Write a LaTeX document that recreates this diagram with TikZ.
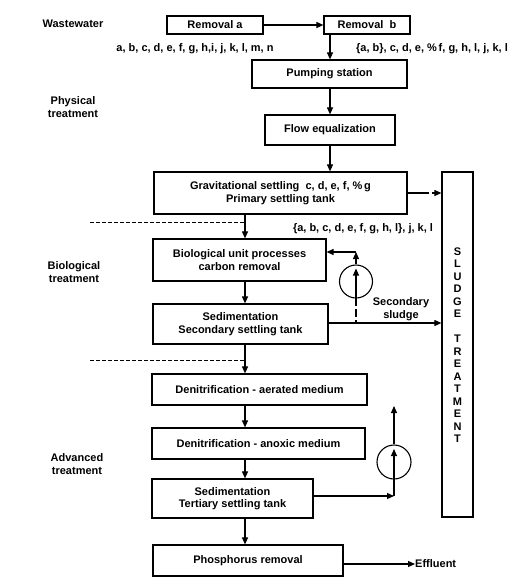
\documentclass[tikz,border=0pt]{standalone}
\usepackage{fontspec}
\setmainfont{Liberation Sans}
\usetikzlibrary{arrows.meta}
\begin{document}
\begin{tikzpicture}[x=1pt,y=-1pt,
  every node/.style={font=\bfseries\fontsize{11}{12.5}\selectfont, inner sep=0pt},
  box/.style={draw, line width=1.2pt, align=center},
  lbl/.style={align=center},
  arr/.style={line width=1.1pt, -{Triangle[length=7pt,width=6pt]}},
  ln/.style={line width=1.1pt},
  dotline/.style={line width=1pt, dash pattern=on 3.5pt off 2.5pt},
  pump/.style={draw, circle, line width=1.1pt, minimum size=33pt}]
\useasboundingbox (0,0) rectangle (526,587);
% boxes
\node[box, minimum width=96pt, minimum height=18pt] (ra) at (215,25) {Removal a};
\node[box, minimum width=86pt, minimum height=18pt] (rb) at (367,25) {Removal\ \ b};
\node[box, minimum width=155pt, minimum height=28pt] (ps) at (329.5,74) {Pumping station};
\node[box, minimum width=130pt, minimum height=30pt] (fe) at (330,130) {Flow equalization};
\node[box, minimum width=253pt, minimum height=42pt] (gs) at (280.5,193) {Gravitational settling\ \ c, d, e, f, \%\,g\\Primary settling tank};
\node[box, minimum width=173pt, minimum height=42pt] (bu) at (239.5,260) {Biological unit processes\\carbon removal};
\node[box, minimum width=175pt, minimum height=40pt] (sd) at (240.5,324) {Sedimentation\\Secondary settling tank};
\node[box, minimum width=215pt, minimum height=31pt] (da) at (259.5,389.5) {Denitrification - aerated medium};
\node[box, minimum width=213pt, minimum height=31pt] (dn) at (258.5,443.5) {Denitrification - anoxic medium};
\node[box, minimum width=161pt, minimum height=39pt] (ts) at (232.5,498.5) {Sedimentation\\Tertiary settling tank};
\node[box, minimum width=190pt, minimum height=31pt] (pr) at (248,560.5) {Phosphorus removal};
\node[box, minimum width=31pt, minimum height=345pt] (st) at (457.5,344.5) {};
\node[lbl, font=\bfseries\fontsize{11}{12.5}\selectfont] (stt) at (457.5,345) {S\\L\\U\\D\\G\\E\\\mbox{}\\T\\R\\E\\A\\T\\M\\E\\N\\T};
% side labels
\node[lbl] (ww) at (73,24) {Wastewater};
\node[lbl] (phy) at (73,107) {Physical\\treatment};
\node[lbl] (bio) at (74,272) {Biological\\treatment};
\node[lbl] (adv) at (77,464) {Advanced\\treatment};
\node[lbl] (l1) at (195,49) {a, b, c, d, e, f, g, h,i, j, k, l, m, n};
\node[lbl] (l2) at (432,49) {\{a, b\}, c, d, e, \%\,f, g, h, l, j, k, l};
\node[lbl] (l3) at (363,229) {\{a, b, c, d, e, f, g, h, l\}, j, k, l};
\node[lbl] (l4) at (401,309) {Secondary\\sludge};
\node[lbl, anchor=west] (eff) at (415,564) {Effluent};
% coordinates
\coordinate (cA) at (330,0);
\coordinate (cB) at (245,0);
% main flow
\draw[arr] (ra.east) -- (rb.west);
\draw[arr] (rb.south -| cA) -- (ps.north -| cA);
\draw[arr] (ps.south -| cA) -- (fe.north -| cA);
\draw[arr] (fe.south -| cA) -- (gs.north -| cA);
\draw[arr] (gs.south -| cB) -- (bu.north -| cB);
\draw[arr] (bu.south -| cB) -- (sd.north -| cB);
\draw[arr] (sd.south -| cB) -- (da.north -| cB);
\draw[arr] (da.south -| cB) -- (dn.north -| cB);
\draw[arr] (dn.south -| cB) -- (ts.north -| cB);
\draw[arr] (ts.south -| cB) -- (pr.north -| cB);
\coordinate (e1) at (343,564);
\draw[arr] (e1) -- (eff.west);
% primary sludge
\draw[line width=1.1pt, dash pattern=on 21pt off 3pt, -{Triangle[length=7pt,width=6pt]}] (gs.east) -- (st.west |- gs.east);
% dotted separators
\coordinate (d1) at (90,222);
\coordinate (d2) at (90,360);
\draw[dotline] (d1) -- (d1 -| cB);
\draw[dotline] (d2) -- (d2 -| cB);
% recirculation 1
\node[pump] (p1) at (356,281.5) {};
\coordinate (k1) at (356,252);
\coordinate (s1) at (356,323);
\coordinate (i1) at (356,268.5);
\coordinate (b1) at (356,298);
\draw[arr] (p1.north) -- (k1);
\draw[arr] (k1) -- (bu.east |- k1);
\draw[arr] (b1) -- (i1);
\draw[line width=1.1pt, dash pattern=on 8pt off 3pt] (b1) -- (s1);
\draw[arr] (sd.east |- s1) -- (st.west |- s1);
% recirculation 2
\node[pump, minimum size=34pt] (p2) at (394,462) {};
\coordinate (k2) at (394,496);
\coordinate (t2) at (394,406);
\coordinate (i2) at (394,449);
\draw[arr] (ts.east |- k2) -- (k2);
\draw[ln] (k2) -- (p2.south);
\draw[arr] (p2.south) -- (i2);
\draw[arr] (p2.north) -- (t2);
\end{tikzpicture}
\end{document}
